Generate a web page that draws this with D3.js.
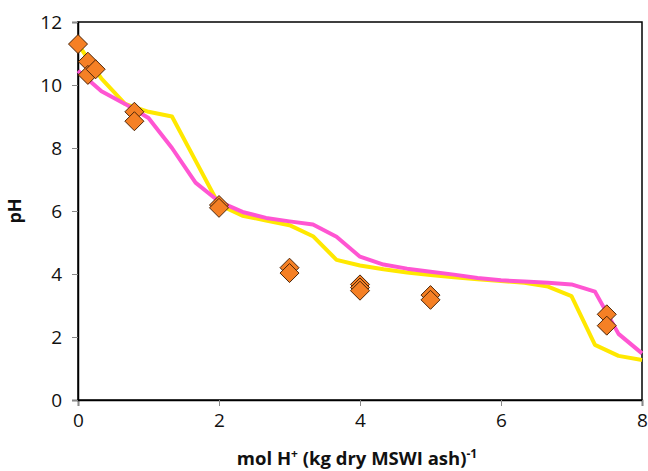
<!DOCTYPE html>
<html>
<head>
<meta charset="utf-8">
<script src="https://cdn.jsdelivr.net/npm/d3@7"></script>
<style>
  body { margin: 0; background: #fff; }
  text { font-family: "Open Sans", "Liberation Sans", sans-serif; }
</style>
</head>
<body>
<div id="chart"></div>
<script>
// model curves, sampled every 1/3 mol H+ / kg
const lineX = [0, 0.333, 0.667, 1, 1.333, 1.667, 2, 2.333, 2.667, 3, 3.333, 3.667, 4,
               4.333, 4.667, 5, 5.333, 5.667, 6, 6.333, 6.667, 7, 7.333, 7.667, 8];
const yellowPH = [11.3, 10.2, 9.4, 9.15, 9.0, 7.6, 6.2, 5.85, 5.7, 5.55, 5.2, 4.45, 4.27,
                  4.15, 4.05, 3.97, 3.9, 3.83, 3.78, 3.72, 3.6, 3.3, 1.75, 1.4, 1.27];
const magentaPH = [10.45, 9.8, 9.4, 8.95, 8.0, 6.9, 6.3, 5.97, 5.78, 5.67, 5.57, 5.18, 4.55,
                   4.3, 4.17, 4.07, 3.98, 3.87, 3.8, 3.76, 3.72, 3.67, 3.44, 2.1, 1.48];

// measured points
const obsX  = [0, 0.14, 0.14, 0.25, 0.8, 0.8, 2, 2, 3, 3, 4, 4, 4, 5, 5, 7.5, 7.5];
const obsPH = [11.3, 10.74, 10.32, 10.5, 9.15, 8.85, 6.19, 6.1, 4.2, 4.03, 3.67, 3.57, 3.47, 3.33, 3.18, 2.72, 2.36];

const xTicks = [0, 2, 4, 6, 8];
const yTicks = [0, 2, 4, 6, 8, 10, 12];

const width = 648, height = 471;
const margin = { top: 22, right: 6, bottom: 71, left: 78 };

const svg = d3.select("#chart").append("svg")
    .attr("width", width)
    .attr("height", height);

const x = d3.scaleLinear().domain([0, 8]).range([margin.left, width - margin.right]);
const y = d3.scaleLinear().domain([0, 12]).range([height - margin.bottom, margin.top]);

// frame
svg.append("rect")
    .attr("x", x(0)).attr("y", y(12))
    .attr("width", x(8) - x(0)).attr("height", y(0) - y(12))
    .attr("fill", "none").attr("stroke", "#000").attr("stroke-width", 1.5);

const xAxis = svg.append("g")
    .attr("transform", `translate(0,${y(0)})`)
    .call(d3.axisBottom(x).tickValues(xTicks).tickSize(6).tickPadding(8).tickFormat(d3.format("d")));
const yAxis = svg.append("g")
    .attr("transform", `translate(${x(0)},0)`)
    .call(d3.axisLeft(y).tickValues(yTicks).tickSize(6).tickPadding(10).tickFormat(d3.format("d")));

[xAxis, yAxis].forEach(g => {
    g.select(".domain").attr("stroke", "#000").attr("stroke-width", 1.5);
    g.selectAll(".tick line").attr("stroke", "#888");
    g.selectAll(".tick text").attr("font-size", 19).attr("fill", "#111")
        .style("font-family", "'Open Sans', sans-serif");
});

// model lines
const line = d3.line().x(d => x(d[0])).y(d => y(d[1]));
svg.append("path")
    .datum(lineX.map((v, i) => [v, yellowPH[i]]))
    .attr("fill", "none").attr("stroke", "#FFE800").attr("stroke-width", 4)
    .attr("stroke-linejoin", "round")
    .attr("d", line);
svg.append("path")
    .datum(lineX.map((v, i) => [v, magentaPH[i]]))
    .attr("fill", "none").attr("stroke", "#FF55D2").attr("stroke-width", 4)
    .attr("stroke-linejoin", "round")
    .attr("d", line);

// diamonds
const s = 9.5;
svg.append("g")
    .selectAll("path")
    .data(obsX.map((v, i) => [v, obsPH[i]]))
    .join("path")
    .attr("transform", d => `translate(${x(d[0])},${y(d[1])})`)
    .attr("d", `M0,${-s}L${s},0L0,${s}L${-s},0Z`)
    .attr("fill", "#F58025")
    .attr("stroke", "#4a2408")
    .attr("stroke-width", 1);

// axis titles
const xt = svg.append("text")
    .attr("x", 357)
    .attr("y", 465)
    .attr("text-anchor", "middle")
    .attr("font-size", 18.5)
    .attr("font-weight", "bold")
    .attr("fill", "#111");
xt.append("tspan").text("mol H");
xt.append("tspan").attr("dy", -7).attr("font-size", 12).text("+");
xt.append("tspan").attr("dy", 7).text(" (kg dry MSWI ash)");
xt.append("tspan").attr("dy", -7).attr("font-size", 12).text("-1");

svg.append("text")
    .attr("transform", `translate(21,${(y(0) + y(12)) / 2}) rotate(-90)`)
    .attr("text-anchor", "middle")
    .attr("font-size", 18)
    .attr("font-weight", "bold")
    .attr("fill", "#111")
    .text("pH");
</script>
</body>
</html>
